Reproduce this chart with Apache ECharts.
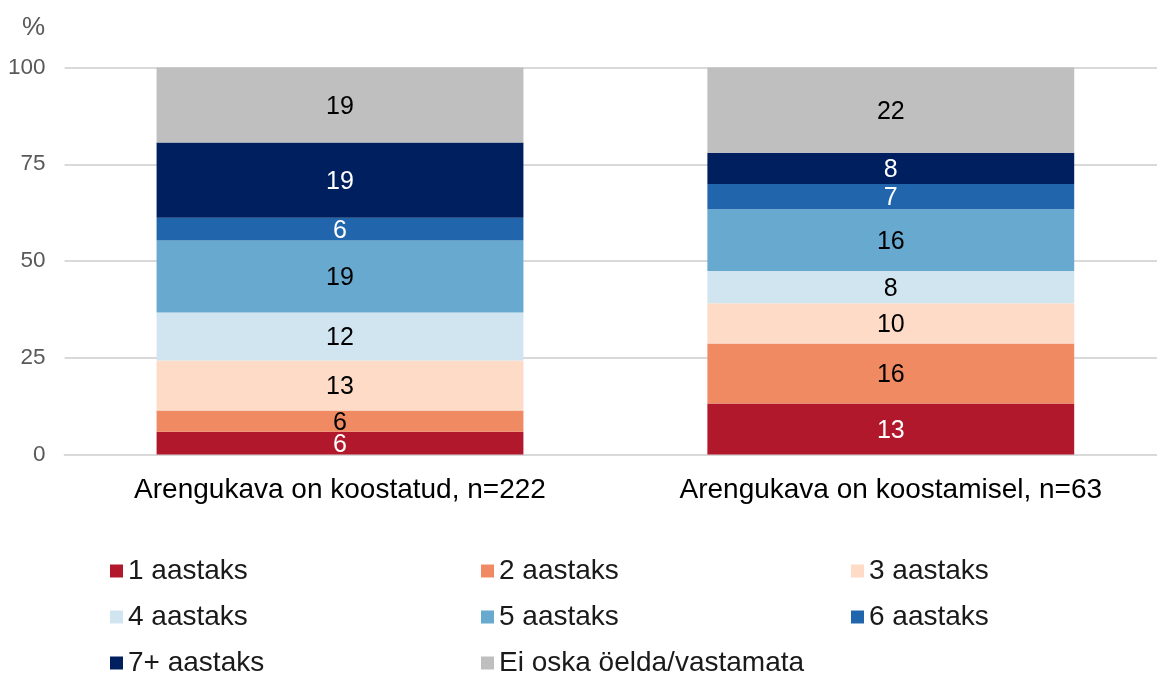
<!DOCTYPE html>
<html>
<head>
<meta charset="utf-8">
<script src="https://cdn.jsdelivr.net/npm/echarts@6/dist/echarts.min.js"></script>
<style>
  html, body { margin: 0; padding: 0; background: #fff; overflow: hidden; }
  /* a bit wider than the window: the plot's right edge sits past the picture edge */
  #chart { width: 1172px; height: 675px; }
</style>
</head>
<body>
<div id="chart"></div>
<script>
// categories + stacked shares (%)
const categories = ["Arengukava on koostatud, n=222", "Arengukava on koostamisel, n=63"];
const seriesNames = ["1 aastaks", "2 aastaks", "3 aastaks", "4 aastaks", "5 aastaks", "6 aastaks", "7+ aastaks", "Ei oska öelda/vastamata"];
const y1 = [5.9, 13.2];
const y2 = [5.5, 15.5];
const y3 = [12.9, 10.4];
const y4 = [12.4, 8.3];
const y5 = [18.6, 16.0];
const y6 = [5.9, 6.5];
const y7 = [19.4, 8.1];
const eiOska = [19.4, 22.0];
const yTicks = [0, 25, 50, 75, 100];

const values = [y1, y2, y3, y4, y5, y6, y7, eiOska];
const colors = ["#b2182b", "#ef8a62", "#fddbc7", "#d1e5f0", "#67a9cf", "#2166ac", "#001f5f", "#bfbfbf"];
const labelColors = ["#fff", "#000", "#000", "#000", "#000", "#fff", "#fff", "#000"];

const FONT = "'Liberation Sans', Arial, sans-serif";

const chart = echarts.init(document.getElementById("chart"));

const series = seriesNames.map((name, i) => ({
  name: name,
  type: "bar",
  stack: "total",
  barWidth: "66.6%",
  data: values[i],
  itemStyle: { color: colors[i] },
  label: {
    show: true,
    position: "inside",
    formatter: (p) => Math.round(p.value),
    fontFamily: FONT,
    fontSize: 25,
    color: labelColors[i],
    offset: [0, 2],
  },
  emphasis: { disabled: true },
}));

// three legend columns, like the original layout
const legendCols = [
  { left: 105, names: [seriesNames[0], seriesNames[3], seriesNames[6]] },
  { left: 476, names: [seriesNames[1], seriesNames[4], seriesNames[7]] },
  { left: 846, names: [seriesNames[2], seriesNames[5]] },
];

const option = {
  animation: false,
  title: {
    text: "%",
    left: 17,
    top: 10,
    textStyle: { fontFamily: FONT, fontSize: 26, fontWeight: "normal", color: "#595959" },
  },
  legend: legendCols.map((c) => ({
    data: c.names,
    orient: "vertical",
    left: c.left,
    top: 552,
    height: 150,
    icon: "rect",
    itemWidth: 13,
    itemHeight: 13,
    itemGap: 18,
    textStyle: { fontFamily: FONT, fontSize: 28, color: "#1a1a1a", lineHeight: 28 },
    selectedMode: false,
  })),
  grid: {
    left: 64.6,
    top: 67.5,
    width: 1101.6,
    height: 387,
    containLabel: false,
  },
  xAxis: {
    type: "category",
    data: categories,
    axisTick: { show: false },
    axisLine: { lineStyle: { color: "#d9d9d9", width: 2 } },
    axisLabel: { fontFamily: FONT, fontSize: 28, color: "#000", margin: 22 },
  },
  yAxis: {
    type: "value",
    min: yTicks[0],
    max: yTicks[yTicks.length - 1],
    interval: 25,
    axisLine: { show: false },
    axisTick: { show: false },
    axisLabel: { fontFamily: FONT, fontSize: 22.5, color: "#595959", margin: 19 },
    splitLine: { lineStyle: { color: "#d9d9d9", width: 2 } },
  },
  series: series,
};

chart.setOption(option);
</script>
</body>
</html>
